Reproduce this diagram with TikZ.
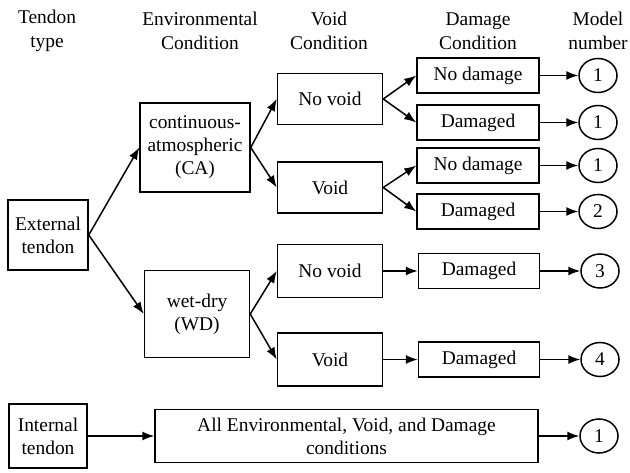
\documentclass[tikz,border=0pt]{standalone}
\usepackage{fontspec}
\setmainfont{Liberation Serif}
\usetikzlibrary{arrows.meta,shapes.geometric}
\begin{document}
\begin{tikzpicture}[x=1bp,y=-1bp,
  every node/.style={font=\fontsize{19.5}{23}\selectfont},
  box/.style={draw,line width=1.5bp,inner sep=0pt,align=center},
  hdr/.style={align=center,inner sep=0pt,font=\fontsize{19.5}{24}\selectfont},
  num/.style={draw,ellipse,line width=1.5bp,inner sep=0pt,minimum width=38bp,minimum height=34bp},
  arr/.style={line width=1.5bp,-{Latex[length=12bp,width=9bp]}}]
\useasboundingbox (0,0) rectangle (630,473);
% headers
\node[hdr] (h1) at (47,31) {Tendon\\type};
\node[hdr] (h2) at (200,31) {Environmental\\Condition};
\node[hdr] (h3) at (329,31) {Void\\Condition};
\node[hdr] (h4) at (478,31) {Damage\\Condition};
\node[hdr] (h5) at (598,31) {Model\\number};
% boxes
\node[box,minimum width=80bp,minimum height=70bp] (ext) at (48,235) {External\\tendon};
\node[box,minimum width=110bp,minimum height=89bp] (ca) at (195,147.5) {continuous-\\atmospheric\\(CA)};
\node[box,minimum width=105bp,minimum height=87bp] (wd) at (197,314) {wet-dry\\(WD)};
\node[box,minimum width=105bp,minimum height=51bp] (nv1) at (330,99) {No void};
\node[box,minimum width=105bp,minimum height=51bp] (v1) at (330,187.5) {Void};
\node[box,minimum width=105bp,minimum height=53bp] (nv2) at (330,271) {No void};
\node[box,minimum width=105bp,minimum height=53bp] (v2) at (330,359.5) {Void};
\node[box,minimum width=122bp,minimum height=35bp] (nd1) at (478,75.5) {No damage};
\node[box,minimum width=122bp,minimum height=35bp] (dm1) at (478,122.5) {Damaged};
\node[box,minimum width=122bp,minimum height=35bp] (nd2) at (478,165.5) {No damage};
\node[box,minimum width=122bp,minimum height=35bp] (dm2) at (478,211.5) {Damaged};
\node[box,minimum width=121bp,minimum height=35bp] (dm3) at (479,271) {Damaged};
\node[box,minimum width=121bp,minimum height=35bp] (dm4) at (479,359.5) {Damaged};
\node[box,minimum width=78bp,minimum height=64bp] (int) at (48,436) {Internal\\tendon};
\node[box,minimum width=383bp,minimum height=53bp] (all) at (346.5,436) {All Environmental, Void, and Damage\\conditions};
% model numbers
\node[num] (c1) at (598,75.5) {1};
\node[num] (c2) at (598,122.5) {1};
\node[num] (c3) at (598,165.5) {1};
\node[num] (c4) at (598,211.5) {2};
\node[num] (c5) at (600,271) {3};
\node[num] (c6) at (600,359.5) {4};
\node[num] (c7) at (599,436) {1};
% connectors
\draw[arr] (ext.east) -- (ca.west);
\draw[arr] (ext.east) -- (wd.west);
\draw[arr] (ca.east) -- (nv1.west);
\draw[arr] (ca.east) -- (v1.west);
\draw[arr] (wd.east) -- (nv2.west);
\draw[arr] (wd.east) -- (v2.west);
\draw[arr] (nv1.east) -- (nd1.west);
\draw[arr] (nv1.east) -- (dm1.west);
\draw[arr] (v1.east) -- (nd2.west);
\draw[arr] (v1.east) -- (dm2.west);
\draw[arr] (nv2.east) -- (dm3.west);
\draw[arr] (v2.east) -- (dm4.west);
\draw[arr] (nd1.east) -- (c1.west);
\draw[arr] (dm1.east) -- (c2.west);
\draw[arr] (nd2.east) -- (c3.west);
\draw[arr] (dm2.east) -- (c4.west);
\draw[arr] (dm3.east) -- (c5.west);
\draw[arr] (dm4.east) -- (c6.west);
\draw[arr] (int.east) -- (all.west);
\draw[arr] (all.east) -- (c7.west);
\end{tikzpicture}
\end{document}
